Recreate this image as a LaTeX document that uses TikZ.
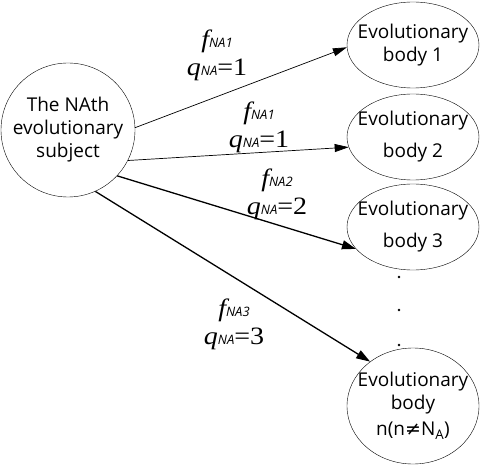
\documentclass[tikz,border=0pt]{standalone}
\usepackage{fontspec}
\setmainfont{Open Sans}
\newfontfamily\serifrm[FakeStretch=1.12]{Liberation Serif}
\newfontfamily\symfont{DejaVu Sans}
\usetikzlibrary{arrows.meta, shapes.geometric}

\newcommand{\ratesub}[1]{{\fontsize{13}{13}\selectfont\itshape #1}}
\newcommand{\ratelabel}[2]{{\serifrm\itshape f}\ratesub{NA#1}\\{\serifrm\itshape q}\ratesub{NA}{\serifrm =#2}}

\begin{document}
\begin{tikzpicture}[x=1pt, y=-1pt,
  subject/.style={circle, draw, minimum size=134pt, inner sep=0pt},
  body/.style={ellipse, draw, minimum width=132pt, minimum height=86pt, inner sep=0pt},
  caption/.style={align=center, font=\fontsize{19}{23}\selectfont},
  rate/.style={align=center, font=\fontsize{25}{28}\selectfont},
  thinarrow/.style={-{Triangle[length=14pt,width=8pt]}, line width=0.7pt},
  thickarrow/.style={-{Triangle[length=14pt,width=9pt]}, line width=1.3pt}]
\useasboundingbox (0,0) rectangle (498,465);
% subject and bodies
\node[subject] (subject) at (68,130) {};
\node[caption] at (subject) {The NAth\\evolutionary\\subject};
\node[body] (b1) at (413,45) {};
\node[caption] at (b1) {Evolutionary\\body 1};
\node[body] (b2) at (413,137) {};
\node[caption] at (b2) {Evolutionary\\[9pt]body 2};
\node[body] (b3) at (413,227) {};
\node[caption] at (b3) {Evolutionary\\[9pt]body 3};
\node[body, minimum height=116pt] (bn) at (413,406) {};
\node[caption] at (bn) {Evolutionary\\body\\[3pt]n(n{\symfont ≠}N\textsubscript{A})};
\foreach \y in {277,310,345}
  \fill (399,\y) circle (1.3pt);
% connectors
\draw[thinarrow] (subject.2) -- (b1.182);
\draw[thinarrow] (subject.-27) -- (b2.189);
\draw[thickarrow] (subject.-43) -- (b3.201);
\draw[thickarrow] (subject.-66) -- (bn.134);
% labels
\node[rate] at (217,55) {\ratelabel{1}{1}};
\node[rate] at (259,127) {\ratelabel{1}{1}};
\node[rate] at (277,194) {\ratelabel{2}{2}};
\node[rate] at (234,324) {\ratelabel{3}{3}};
\end{tikzpicture}
\end{document}
